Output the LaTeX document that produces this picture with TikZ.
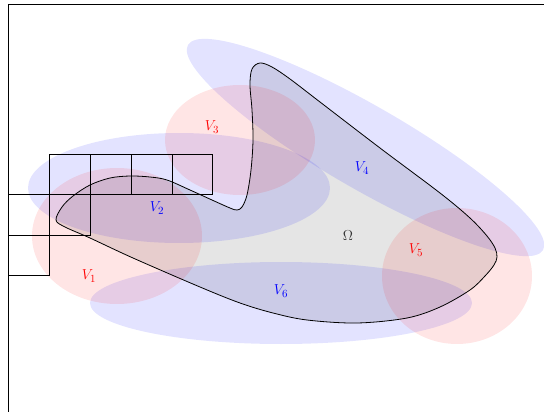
\documentclass[tikz,border=0pt]{standalone}
\begin{document}
\begin{tikzpicture}[x=1pt,y=-1pt,
  bluezone/.style={fill=blue,fill opacity=0.11},
  redzone/.style={fill=red,fill opacity=0.1},
  cell/.style={draw=black,line width=0.9pt},
  lab/.style={font=\fontsize{15}{17}\selectfont,inner sep=0pt}]
\useasboundingbox (0,0) rectangle (544,412);
% domain Omega
\def\omegapath{plot[smooth cycle,tension=0.55] coordinates {
 (56,220) (62,207) (73,196) (90,185) (110,178) (130,176) (150,177) (167,180)
 (190,190) (212,200) (230,208) (237,210) (242,207) (247,195) (251,170)
 (253,140) (252,110) (250,85) (252,69) (260,63) (272,67) (290,79) (320,102)
 (380,148) (440,193) (470,218) (487,236) (495,248) (497,257) (494,265)
 (485,276) (470,290) (440,307) (407,318) (357,323) (307,320) (273,313) (240,303)
 (200,287) (133,258) (90,238) (65,227)}}
\fill[black!10] \omegapath;
% covering sets
\fill[bluezone,rotate around={-30:(365.5,147.5)}] (365.5,147.5) ellipse [x radius=205pt,y radius=41.5pt];
\fill[bluezone] (179,188) ellipse [x radius=151pt,y radius=55pt];
\fill[bluezone] (281,303) ellipse [x radius=191pt,y radius=41pt];
\fill[redzone] (240,140) ellipse [x radius=75pt,y radius=55pt];
\fill[redzone] (117,236) ellipse [x radius=85pt,y radius=68pt];
\fill[redzone] (457,276) ellipse [x radius=75pt,y radius=68pt];
\draw[line width=0.8pt] \omegapath;
% grid cells
\draw[cell] (49,154) rectangle (90,194);
\draw[cell] (90,154) rectangle (131,194);
\draw[cell] (131,154) rectangle (172,194);
\draw[cell] (172,154) rectangle (212,194);
\draw[cell] (8,194) rectangle (49,235);
\draw[cell] (49,194) rectangle (90,235);
\draw[cell] (8,235) rectangle (49,275);
% frame
\draw[line width=0.9pt] (8,412) -- (8,4) -- (544,4);
% labels
\node[lab,text=red] (v1) at (89,276) {$V_1$};
\node[lab,text=blue] (v2) at (157,208) {$V_2$};
\node[lab,text=red] (v3) at (212,127) {$V_3$};
\node[lab,text=blue] (v4) at (362,168) {$V_4$};
\node[lab,text=red] (v5) at (416,250) {$V_5$};
\node[lab,text=blue] (v6) at (281,291) {$V_6$};
\node[lab,text=black!80] (om) at (348,236) {$\Omega$};
\end{tikzpicture}
\end{document}
